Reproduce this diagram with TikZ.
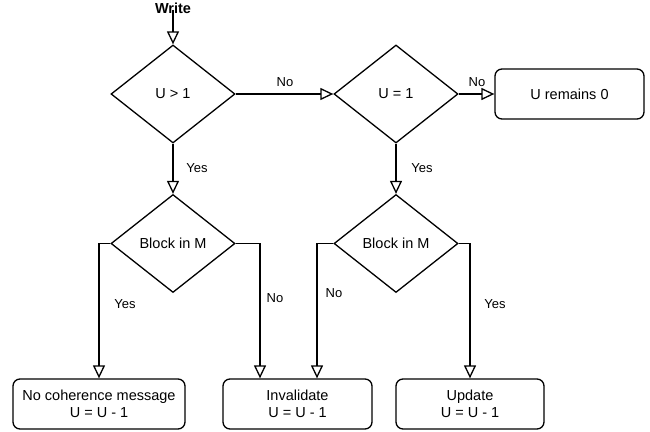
\documentclass[tikz,border=0pt]{standalone}
\usepackage{fontspec}
\setmainfont{Liberation Sans}
\usetikzlibrary{shapes.geometric,arrows.meta,calc}
\begin{document}
\begin{tikzpicture}[x=1pt,y=-1pt,
  every node/.style={font=\fontsize{14.5}{17}\selectfont},
  dec/.style={draw,shape=diamond,line width=1.3pt,minimum width=124pt,minimum height=98pt,inner sep=0pt},
  box/.style={draw,rounded corners=7pt,line width=1.3pt,minimum height=50pt,inner sep=0pt,align=center},
  lbl/.style={font=\fontsize{13}{15}\selectfont,inner sep=0pt},
  conn/.style={line width=1.3pt,-{Triangle[open,length=13pt,width=12pt]}}
]
\useasboundingbox (0,0) rectangle (650,431);
\node[font=\bfseries\fontsize{14.5}{17}\selectfont,inner sep=0pt] (w) at (173,8) {Write};
\node[dec] (d1) at (173,94) {U > 1};
\node[dec] (d2) at (396,94) {U = 1};
\node[dec] (d3) at (173,243.5) {Block in M};
\node[dec] (d4) at (396,243.5) {Block in M};
\node[box,minimum width=149pt] (b0) at (569.5,94) {U remains 0};
\node[box,minimum width=172pt] (b1) at (99,404) {No coherence message\\U = U - 1};
\node[box,minimum width=149pt] (b2) at (297.5,404) {Invalidate\\U = U - 1};
\node[box,minimum width=148pt] (b3) at (470,404) {Update\\U = U - 1};
\coordinate (b2l) at ([xshift=-37.5pt]b2.north);
\coordinate (b2r) at ([xshift=19.5pt]b2.north);
\draw[conn] ([yshift=4pt]w.south) -- (d1.north);
\draw[conn] (d1.east) -- (d2.west);
\draw[conn] (d2.east) -- (b0.west);
\draw[conn] (d1.south) -- (d3.north);
\draw[conn] (d2.south) -- (d4.north);
\draw[conn] (d3.west) -| (b1.north);
\draw[conn] (d3.east) -| (b2l);
\draw[conn] (d4.west) -| (b2r);
\draw[conn] (d4.east) -| (b3.north);
\node[lbl] (l1) at (285,82) {No};
\node[lbl] (l2) at (477,82) {No};
\node[lbl] (l3) at (197,168) {Yes};
\node[lbl] (l4) at (422,168) {Yes};
\node[lbl] (l5) at (125,304) {Yes};
\node[lbl] (l6) at (275,298) {No};
\node[lbl] (l7) at (334,293) {No};
\node[lbl] (l8) at (495,304) {Yes};
\end{tikzpicture}
\end{document}
